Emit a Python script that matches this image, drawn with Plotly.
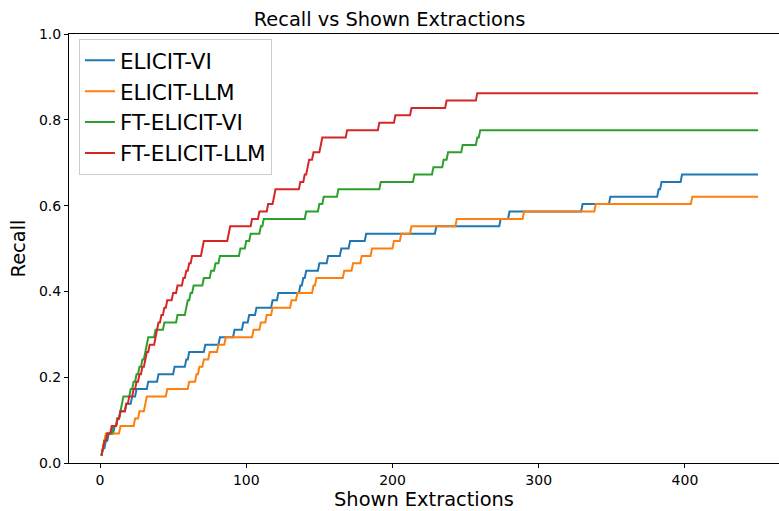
import numpy as np
import plotly.graph_objects as go

# Total number of relevant items in the ground truth
N_RELEVANT = 58
N_SHOWN = 450

# Position (number of extractions shown) at which each new relevant item was found
hits_elicit_vi = [1, 2, 4, 6, 10, 12, 14, 18, 22, 25, 33, 40, 51, 59, 61, 72, 82, 92, 98, 102,
                  107, 118, 122, 137, 139, 141, 150, 156, 165, 171, 182, 230, 274, 280, 330,
                  349, 382, 384, 398]
hits_elicit_llm = [1, 2, 3, 4, 14, 24, 27, 31, 32, 46, 61, 66, 68, 71, 75, 81, 86, 105, 110, 114,
                   118, 131, 135, 146, 148, 167, 173, 179, 186, 201, 206, 213, 244, 290, 339, 405]
hits_ft_elicit_vi = [1, 2, 3, 5, 9, 12, 14, 15, 16, 21, 23, 25, 27, 29, 31, 32, 33, 38, 44, 53,
                     59, 60, 62, 64, 71, 76, 79, 82, 96, 100, 103, 110, 112, 141, 150, 153, 163,
                     192, 215, 228, 235, 238, 248, 258, 260]
hits_ft_elicit_llm = [1, 2, 3, 5, 8, 12, 14, 18, 20, 23, 25, 27, 29, 31, 32, 34, 38, 39, 40, 42,
                      44, 46, 50, 53, 57, 59, 61, 63, 70, 71, 88, 89, 104, 109, 115, 119, 120,
                      137, 140, 142, 143, 146, 151, 152, 169, 191, 202, 213, 237, 258]

series_names = ["ELICIT-VI", "ELICIT-LLM", "FT-ELICIT-VI", "FT-ELICIT-LLM"]
series_hits = [hits_elicit_vi, hits_elicit_llm, hits_ft_elicit_vi, hits_ft_elicit_llm]
series_colors = ["#1f77b4", "#ff7f0e", "#2ca02c", "#d62728"]

shown = np.arange(1, N_SHOWN + 1)

fig = go.Figure()
for name, hits, color in zip(series_names, series_hits, series_colors):
    hits_arr = np.asarray(hits)
    recall = np.searchsorted(np.sort(hits_arr), shown, side="right") / N_RELEVANT
    fig.add_trace(go.Scatter(
        x=shown, y=recall, mode="lines", name=name,
        line=dict(color=color, width=2),
    ))

font_family = "DejaVu Sans"
fig.update_layout(
    width=779, height=511,
    margin=dict(l=69, r=0, t=34, b=48),
    paper_bgcolor="white", plot_bgcolor="white",
    font=dict(family=font_family, color="black", size=14),
    title=dict(text="Recall vs Shown Extractions", x=0.5, xanchor="center",
               xref="container", yref="container", y=1 - 19 / 511, yanchor="middle",
               font=dict(size=19.4, family=font_family, color="black")),
    showlegend=True,
    legend=dict(x=0.014, y=0.989, xanchor="left", yanchor="top",
                bgcolor="rgba(255,255,255,0.8)", bordercolor="#cccccc", borderwidth=1,
                font=dict(size=21.5, family=font_family, color="black"),
                tracegroupgap=0),
)
fig.update_xaxes(
    range=[-21.2, 464.3], showgrid=False, zeroline=False,
    showline=True, linecolor="black", linewidth=1, mirror=True,
    ticks="outside", ticklen=4, tickcolor="black", tickwidth=1,
    tickvals=[0, 100, 200, 300, 400],
    title=dict(text="Shown Extractions", font=dict(size=19.4, family=font_family), standoff=4),
)
fig.update_yaxes(
    range=[0, 1], showgrid=False, zeroline=False,
    showline=True, linecolor="black", linewidth=1,
    ticks="outside", ticklen=4, tickcolor="black", tickwidth=1,
    tickvals=[0, 0.2, 0.4, 0.6, 0.8, 1.0], tickformat=".1f",
    title=dict(text="Recall", font=dict(size=19.4, family=font_family), standoff=8),
)

fig.write_html("out.html")
